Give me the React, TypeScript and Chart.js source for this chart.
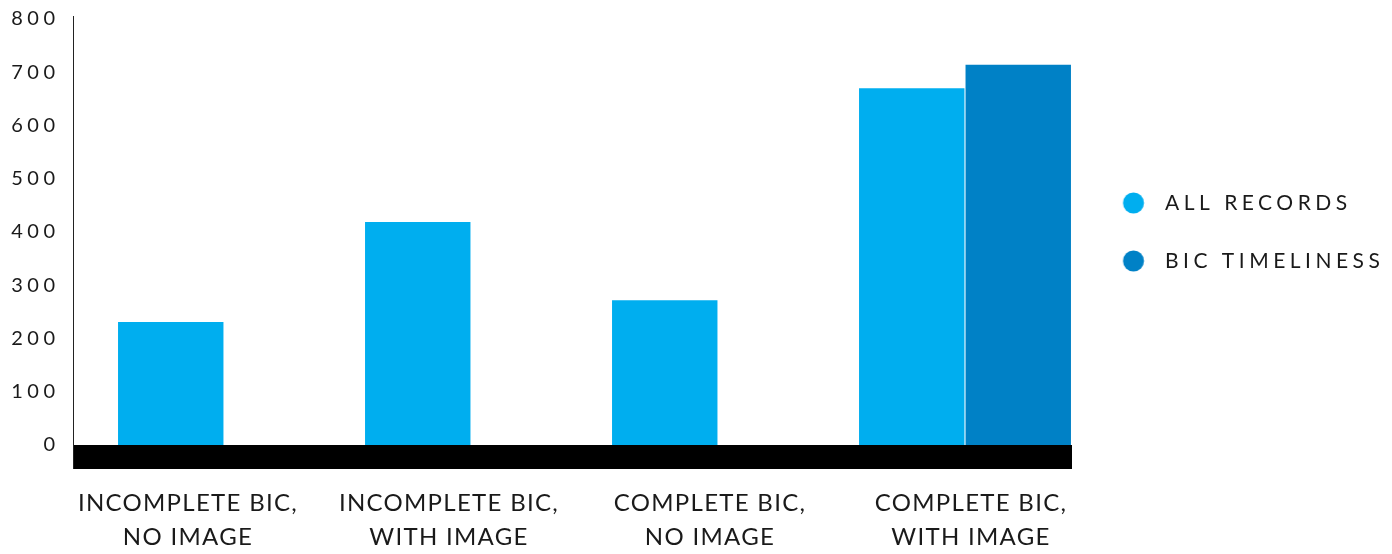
import React, { useEffect, useRef } from 'react';
import { Chart, registerables } from 'chart.js';

Chart.register(...registerables);

// ---- data ----
const categories: string[][] = [
  ['INCOMPLETE BIC,', 'NO IMAGE'],
  ['INCOMPLETE BIC,', 'WITH IMAGE'],
  ['COMPLETE BIC,', 'NO IMAGE'],
  ['COMPLETE BIC,', 'WITH IMAGE'],
];
const allRecords: number[] = [231, 419, 272, 670];
const bicTimeliness: (number | null)[] = [null, null, null, 714];
const seriesNames: string[] = ['ALL RECORDS', 'BIC TIMELINESS'];
const yTicks: number[] = [0, 100, 200, 300, 400, 500, 600, 700, 800];

// ---- styles ----
const seriesColors = ['#00AEEF', '#0081C6'];
const textColor = '#1a1a1a';
const FONT = 'Lato';
const LEGEND_SPACING = '4.5px';
const X_SPACING = '1.3px';
const LEGEND_FONT_SIZE = 21;
const LEGEND_PAD = 37;
const LEGEND_BOX = 45.5;
const PLOT_RIGHT = 1072;
const CANVAS_W = 1392;
const CANVAS_H = 554;

function makeDot(color: string): HTMLCanvasElement {
  const c = document.createElement('canvas');
  c.width = 26;
  c.height = 22;
  const g = c.getContext('2d')!;
  g.fillStyle = color;
  g.beginPath();
  g.arc(14.75, 11, 10.5, 0, Math.PI * 2);
  g.fill();
  return c;
}

export default function App() {
  const ref = useRef<HTMLCanvasElement>(null);

  useEffect(() => {
    const canvas = ref.current!;
    const dots = seriesColors.map((c) => makeDot(c));
    const idx = categories.map((_, i) => i);

    // measure legend text so that the plot area ends where the reference's does
    const m = document.createElement('canvas').getContext('2d')! as any;
    m.font = `normal ${LEGEND_FONT_SIZE}px ${FONT}`;
    m.letterSpacing = LEGEND_SPACING;
    const maxText = Math.max(...seriesNames.map((n) => m.measureText(n).width));
    const legendW = LEGEND_PAD + LEGEND_BOX + LEGEND_FONT_SIZE / 2 + maxText + 10;
    const padRight = CANVAS_W - PLOT_RIGHT - legendW;

    const bandPlugin = {
      id: 'bandPlugin',
      beforeLayout(chart: any) {
        chart.ctx.letterSpacing = LEGEND_SPACING;
      },
      beforeDraw(chart: any) {
        chart.ctx.letterSpacing = LEGEND_SPACING;
      },
      afterDatasetsDraw(chart: any) {
        const { ctx, chartArea } = chart;
        const { left, right, top, bottom } = chartArea;
        ctx.save();
        ctx.fillStyle = '#000000';
        ctx.fillRect(left, bottom, right - left, 24);
        ctx.strokeStyle = '#222222';
        ctx.lineWidth = 1;
        ctx.beginPath();
        ctx.moveTo(left + 0.5, top - 3);
        ctx.lineTo(left + 0.5, bottom + 24);
        ctx.stroke();
        ctx.restore();
        ctx.letterSpacing = X_SPACING;
      },
      afterDraw(chart: any) {
        chart.ctx.letterSpacing = '0px';
      },
    };

    const chart = new Chart(canvas, {
      type: 'bar',
      data: {
        datasets: [
          {
            label: seriesNames[0],
            data: idx.map((i) => ({ x: i, y: allRecords[i] })) as any,
            backgroundColor: seriesColors[0],
            borderWidth: 0,
            xAxisID: 'x',
          },
          {
            label: seriesNames[1],
            data: idx.map((i) => ({ x: i, y: bicTimeliness[i] })) as any,
            backgroundColor: seriesColors[1],
            borderWidth: 0,
            xAxisID: 'x',
          },
        ],
      },
      options: {
        responsive: false,
        animation: false,
        events: [],
        layout: { padding: { top: 19, right: padRight, bottom: -41, left: 0 } },
        datasets: {
          bar: { categoryPercentage: 0.8623, barPercentage: 0.99 },
        },
        scales: {
          x: {
            type: 'linear',
            display: false,
            offset: false,
            min: -0.6113,
            max: 3.4332,
            afterBuildTicks: (s: any) => {
              s.ticks = idx.map((v) => ({ value: v }));
            },
          },
          xl: {
            type: 'linear',
            position: 'bottom',
            offset: false,
            min: -0.4406,
            max: 3.387,
            grid: { display: false, drawTicks: false, offset: false },
            border: { display: false },
            afterBuildTicks: (s: any) => {
              s.ticks = idx.map((v) => ({ value: v }));
            },
            ticks: {
              z: 1,
              padding: 41,
              maxRotation: 0,
              minRotation: 0,
              autoSkip: false,
              color: textColor,
              font: { family: FONT, size: 24, lineHeight: 34 / 24 },
              callback: (v: any) => categories[v as number],
            },
          },
          y: {
            min: 0,
            max: 800,
            afterBuildTicks: (s: any) => {
              s.ticks = yTicks.map((v) => ({ value: v }));
            },
            afterFit: (s: any) => {
              s.width = 73;
            },
            grid: { display: false, drawTicks: false },
            border: { display: false },
            ticks: {
              padding: 13.5,
              autoSkip: false,
              color: textColor,
              font: { family: FONT, size: 20, lineHeight: 0.5 },
            },
          },
        },
        plugins: {
          tooltip: { enabled: false },
          legend: {
            position: 'right',
            fullSize: false,
            labels: {
              usePointStyle: true,
              pointStyleWidth: LEGEND_BOX,
              padding: LEGEND_PAD,
              color: textColor,
              font: { family: FONT, size: LEGEND_FONT_SIZE },
              generateLabels: () =>
                seriesNames.map((n, i) => ({
                  text: n,
                  fillStyle: seriesColors[i],
                  strokeStyle: seriesColors[i],
                  fontColor: textColor,
                  lineWidth: 0,
                  pointStyle: dots[i] as any,
                  hidden: false,
                  datasetIndex: i,
                })),
            },
          },
        },
      } as any,
      plugins: [bandPlugin],
    });

    return () => chart.destroy();
  }, []);

  return (
    <div style={{ position: 'absolute', left: 0, top: 0, width: CANVAS_W, height: CANVAS_H, background: '#fff' }}>
      <canvas ref={ref} width={CANVAS_W} height={CANVAS_H} style={{ width: CANVAS_W, height: CANVAS_H }} />
    </div>
  );
}
